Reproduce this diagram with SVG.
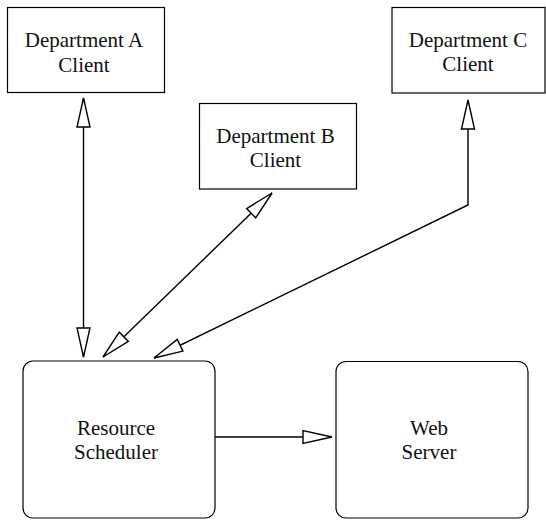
<svg xmlns="http://www.w3.org/2000/svg" width="546" height="521" viewBox="0 0 546 521">
<style>
.box{fill:#fff;stroke:#000;stroke-width:1.2}
.t{font-family:"Liberation Serif","Times New Roman",serif;font-size:21px;fill:#111;text-anchor:middle}
.c{fill:none;stroke:#000;stroke-width:1.4}
</style>
<defs>
<marker id="ah" viewBox="-31 -9 33 18" markerWidth="33" markerHeight="18" refX="0" refY="0" orient="auto-start-reverse" markerUnits="userSpaceOnUse">
<path d="M0,0 L-29,-6.5 L-29,6.5 Z" fill="#fff" stroke="#000" stroke-width="1.4" stroke-linejoin="miter"/>
</marker>
</defs>
<rect width="546" height="521" fill="#fff"/>
<g id="connectors">
<path class="c" d="M83.5,98 L83.5,357" marker-start="url(#ah)" marker-end="url(#ah)"/>
<path class="c" d="M272,193 L103,357" marker-start="url(#ah)" marker-end="url(#ah)"/>
<path class="c" d="M468,100 L468,205 L154,358" marker-start="url(#ah)" marker-end="url(#ah)"/>
<path class="c" d="M215,437 L332,437" marker-end="url(#ah)"/>
</g>
<g id="deptA">
<rect class="box" x="7.5" y="7.5" width="157" height="85"/>
<text class="t" x="84" y="47">Department A</text>
<text class="t" x="84" y="71.5">Client</text>
</g>
<g id="deptB">
<rect class="box" x="199.5" y="103.5" width="157" height="85.5"/>
<text class="t" x="275.5" y="143">Department B</text>
<text class="t" x="275.5" y="167">Client</text>
</g>
<g id="deptC">
<rect class="box" x="392" y="7.5" width="153" height="85.5"/>
<text class="t" x="468" y="46.5">Department C</text>
<text class="t" x="468" y="70.5">Client</text>
</g>
<g id="scheduler">
<rect class="box" x="23" y="361" width="192" height="157" rx="10" ry="10"/>
<text class="t" x="116" y="435">Resource</text>
<text class="t" x="116" y="459">Scheduler</text>
</g>
<g id="webserver">
<rect class="box" x="336" y="361.5" width="192" height="156.5" rx="10" ry="10"/>
<text class="t" x="429" y="435">Web</text>
<text class="t" x="429" y="459">Server</text>
</g>
</svg>
